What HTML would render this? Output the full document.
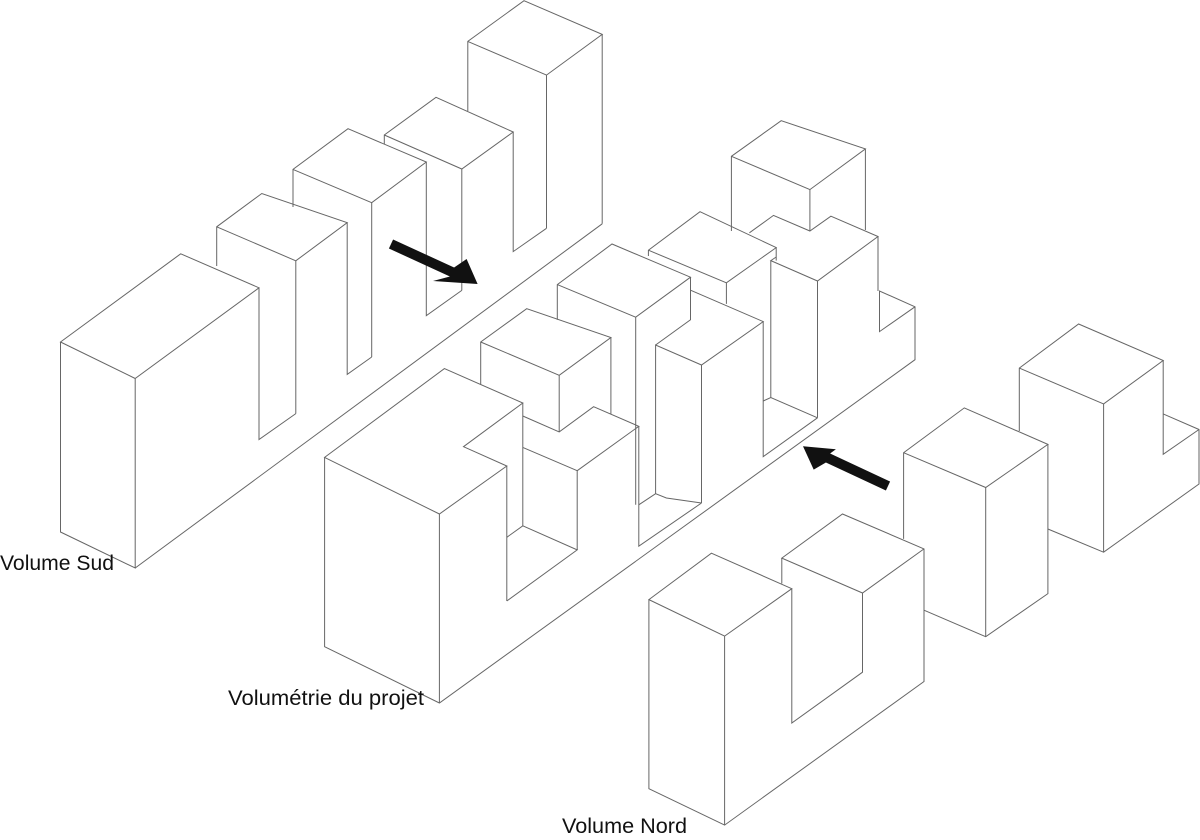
<!DOCTYPE html>
<html><head><meta charset="utf-8"><style>
html,body{margin:0;padding:0;background:#fff;}
svg{display:block;}
text{font-family:"Liberation Sans",sans-serif;font-size:21px;fill:#111;}
</style></head><body>
<svg width="1200" height="840" viewBox="0 0 1200 840" xmlns="http://www.w3.org/2000/svg">
<g fill="none" stroke="#666" stroke-width="1" stroke-linejoin="miter">
<!-- Volume Sud -->
<polyline points="135.2,378.5 60.5,342 180.7,253.8 259,287.8 135.2,378.5 135.2,568 60.5,532 60.5,342"/>
<line x1="135.2" y1="568" x2="602.2" y2="223.8"/>
<polyline points="259,287.8 259,439.5 295.8,413.6"/>
<polyline points="216.7,266 216.7,226.8 261.8,193.5 347.2,222.7 295.8,260.8 216.7,226.8"/>
<line x1="295.8" y1="260.8" x2="295.8" y2="413.6"/>
<polyline points="347.2,222.7 347.2,374.4 371.7,357"/>
<polyline points="293,207 293,169.4 348,128.7 426.3,162 371.7,202.7 293,169.4"/>
<line x1="371.7" y1="202.7" x2="371.7" y2="357"/>
<polyline points="426.3,162 426.3,315.6 461.8,290.4"/>
<polyline points="384.3,144 384.3,135 436,97.3 513.2,132 461.8,169 384.3,135"/>
<line x1="461.8" y1="169" x2="461.8" y2="290.4"/>
<polyline points="513.2,132 513.2,251.6 546.5,228.3"/>
<polyline points="467.8,111 467.8,41.4 524,0.7 602.2,34.4 546.5,75.1 467.8,41.4"/>
<line x1="546.5" y1="75.1" x2="546.5" y2="228.3"/>
<line x1="602.2" y1="34.4" x2="602.2" y2="223.8"/>

<!-- Projet -->
<polygon points="324.6,457.4 444.4,368.6 522.8,403 463.5,446.7 506.8,466 439.4,514"/>
<line x1="439.4" y1="514" x2="439.4" y2="703"/>
<polyline points="324.6,457.4 324.6,646.7 439.4,703 915,359.7 915,306.8 879.5,291 879.5,331.6 915,306.8"/>
<line x1="522.8" y1="403" x2="522.8" y2="525.8"/>
<line x1="506.8" y1="466" x2="506.8" y2="601"/>
<polyline points="506.8,601 577.2,549.9 522.8,525.8 506.8,537.3"/>
<polyline points="522.8,447.4 577.2,470.7 577.2,549.9"/>
<polyline points="577.2,470.7 638.8,426.3 593.6,406.7 559.2,431.9 522.8,416"/>
<polyline points="480.7,384.5 480.7,342 526.7,308.7 610.9,337.5 559.2,375.3 480.7,342"/>
<line x1="559.2" y1="375.3" x2="559.2" y2="431.9"/>
<line x1="610.9" y1="337.5" x2="610.9" y2="414"/>
<polyline points="638.8,426.3 638.8,546.2 701.5,503"/>
<polyline points="638.8,504.8 655.6,493.7 666.4,498 701.5,503"/>
<polyline points="557.3,319.8 557.3,284.6 612,244 690.5,277.2 635.7,317.2 557.3,284.6"/>
<line x1="635.7" y1="317.2" x2="635.7" y2="504.8"/>
<polyline points="690.5,277.2 690.5,319.8 655.6,345"/>
<polyline points="655.6,493.7 655.6,345 701.5,365 763.2,321.6 690.5,290.2"/>
<line x1="701.5" y1="365" x2="701.5" y2="503"/>
<polyline points="763.2,321.6 763.2,456.7 817.5,417.8"/>
<polyline points="763.2,401 770.8,397.5 817.5,417.8"/>
<polyline points="648.4,256 648.4,250.2 700,211.7 776.2,247.6 726.4,282.8 648.4,250.2"/>
<line x1="726.4" y1="282.8" x2="726.4" y2="303.9"/>
<line x1="776.2" y1="247.6" x2="776.2" y2="260.6"/>
<line x1="770.8" y1="260.6" x2="770.8" y2="397.5"/>
<polyline points="749.4,232.8 773.5,215.4 809.9,231 830.9,216.2 878,236.5 817.5,281 770.8,260.6 776.2,257"/>
<line x1="817.5" y1="281" x2="817.5" y2="417.8"/>
<line x1="878" y1="236.5" x2="878" y2="291"/>
<polyline points="731.4,231 731.4,156.3 781.2,120.7 865.4,148.9 809.9,189.6 731.4,156.3"/>
<line x1="809.9" y1="189.6" x2="809.9" y2="231"/>
<line x1="865.4" y1="148.9" x2="865.4" y2="230"/>

<!-- Volume Nord -->
<polygon points="648.9,599.6 711.4,553.2 791.8,588.7 724.6,636.1"/>
<polyline points="648.9,599.6 648.9,788.7 724.6,825.1 924,681.5 924,548.9 842.5,514 781.8,558.1 862.5,593 924,548.9"/>
<line x1="724.6" y1="636.1" x2="724.6" y2="825.1"/>
<line x1="781.8" y1="558.1" x2="781.8" y2="583.5"/>
<polyline points="791.8,588.7 791.8,723 862.5,672.2 862.5,593"/>
<polyline points="903.6,538.9 903.6,452.7 964.3,407.9 1047.9,444.4 985.7,487.5 903.6,452.7"/>
<line x1="985.7" y1="487.5" x2="985.7" y2="636.7"/>
<polyline points="924,610.2 985.7,636.7 1047.9,593.6 1047.9,444.4"/>
<polyline points="1019.3,431 1019.3,368.1 1078.6,324 1163.2,360.5 1103.6,403.9 1019.3,368.1"/>
<line x1="1103.6" y1="403.9" x2="1103.6" y2="552.2"/>
<polyline points="1047.9,529 1103.6,552.2 1199,484 1199,429.5 1163.2,413.9"/>
<polyline points="1163.2,360.5 1163.2,454.3 1199,429.5"/>
</g>
<!-- arrows -->
<g fill="#111">
<polygon points="393.1,239.5 454.1,267.5 466.6,259 477.6,284 433,281 449.9,276.5 388.9,248.5"/>
<polygon points="890.1,481.5 830.1,453.5 835.9,449.3 803,446.3 813.7,469.6 825.9,462.5 885.9,490.5"/>
</g>
<text x="0" y="570" textLength="114" lengthAdjust="spacingAndGlyphs">Volume Sud</text>
<text x="228" y="705" textLength="196" lengthAdjust="spacingAndGlyphs">Volumétrie du projet</text>
<text x="562" y="833" textLength="125" lengthAdjust="spacingAndGlyphs">Volume Nord</text>
</svg>
</body></html>
